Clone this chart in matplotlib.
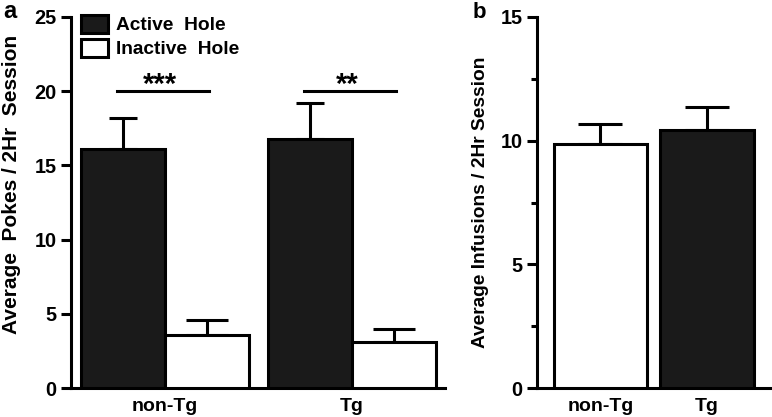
import matplotlib.pyplot as plt
from matplotlib.patches import Patch

plt.rcParams['font.family'] = ['Liberation Sans', 'DejaVu Sans']
plt.rcParams['font.weight'] = 'bold'

# panel a: nose pokes
groups = ['non-Tg', 'Tg']
active = [16.1, 16.8]
active_err = [2.1, 2.4]
inactive = [3.55, 3.1]
inactive_err = [1.0, 0.85]
sig_labels = ['***', '**']
sig_y = [20, 20]

# panel b: infusions
inf_groups = ['non-Tg', 'Tg']
infusions = [9.87, 10.43]
infusions_err = [0.8, 0.95]

dark = '#1a1a1a'
lw = 2.2

fig = plt.figure(figsize=(7.72, 4.17), dpi=100)
ax1 = fig.add_axes([71/772, 1-388/417, (445-71)/772, (388-17)/417])
ax2 = fig.add_axes([537/772, 1-388/417, (772-537)/772, (388-17)/417])

w = 0.449
x = [0, 1]
xa = [i - w/2 for i in x]
xi = [i + w/2 for i in x]
ax1.bar(xa, active, width=w, color=dark, edgecolor='black', linewidth=lw, zorder=3)
ax1.bar(xi, inactive, width=w, color='white', edgecolor='black', linewidth=lw, zorder=3)
ax1.errorbar(xa, active, yerr=[[0, 0], active_err], fmt='none', ecolor='black',
             elinewidth=lw, capsize=10, capthick=lw, zorder=2)
ax1.errorbar(xi, inactive, yerr=[[0, 0], inactive_err], fmt='none', ecolor='black',
             elinewidth=lw, capsize=15, capthick=lw, zorder=2)

for i in range(len(x)):
    ax1.plot([x[i] - 0.255, x[i] + 0.235], [sig_y[i], sig_y[i]], color='black', lw=lw)
    ax1.text(x[i] - 0.025, sig_y[i] - 0.5, sig_labels[i], ha='center', va='bottom',
             fontsize=21, fontweight='bold')

ax1.set_xlim(-0.503, 1.497)
ax1.set_ylim(0, 25)
ax1.set_yticks([0, 5, 10, 15, 20, 25])
ax1.set_xticks(x)
ax1.set_xticklabels(groups)
ax1.set_ylabel('Average  Pokes / 2Hr  Session', fontsize=15, fontweight='bold')
ax1.yaxis.set_label_coords(-0.133, 0.548)

handles = [Patch(facecolor=dark, edgecolor='black', linewidth=lw, label='Active  Hole'),
           Patch(facecolor='white', edgecolor='black', linewidth=lw, label='Inactive  Hole')]
ax1.legend(handles=handles, loc='upper left', bbox_to_anchor=(0.027, 1.006), frameon=False,
           fontsize=13.8, handlelength=1.38, handleheight=1.05, handletextpad=0.45,
           borderpad=0, borderaxespad=0, labelspacing=0.25)

wb = 0.878
ax2.bar(x, infusions, width=wb, color=['white', dark], edgecolor='black', linewidth=lw, zorder=3)
ax2.errorbar(x, infusions, yerr=[[0, 0], infusions_err], fmt='none', ecolor='black',
             elinewidth=lw, capsize=16, capthick=lw, zorder=2)
ax2.set_xlim(-0.596, 1.61)
ax2.set_ylim(0, 15)
ax2.set_yticks([0, 5, 10, 15])
ax2.set_yticks([2.5, 7.5, 12.5], minor=True)
ax2.set_xticks(x)
ax2.set_xticklabels(inf_groups)
ax2.set_ylabel('Average Infusions / 2Hr Session', fontsize=13.8, fontweight='bold', labelpad=8)

for ax in (ax1, ax2):
    ax.spines['top'].set_visible(False)
    ax.spines['right'].set_visible(False)
    ax.spines['left'].set_linewidth(lw)
    ax.spines['bottom'].set_linewidth(lw)
    ax.tick_params(axis='y', which='major', length=7, width=lw, labelsize=14.3)
    ax.tick_params(axis='y', which='minor', length=4, width=lw)
    ax.tick_params(axis='x', length=0, labelsize=14, pad=7)
    for t in ax.get_yticklabels() + ax.get_xticklabels():
        t.set_fontweight('bold')

fig.text(3/772, 1-18/417, 'a', fontsize=17, fontweight='bold', va='baseline')
fig.text(473/772, 1-18/417, 'b', fontsize=16, fontweight='bold', va='baseline')

fig.savefig('out.png', dpi=100)
